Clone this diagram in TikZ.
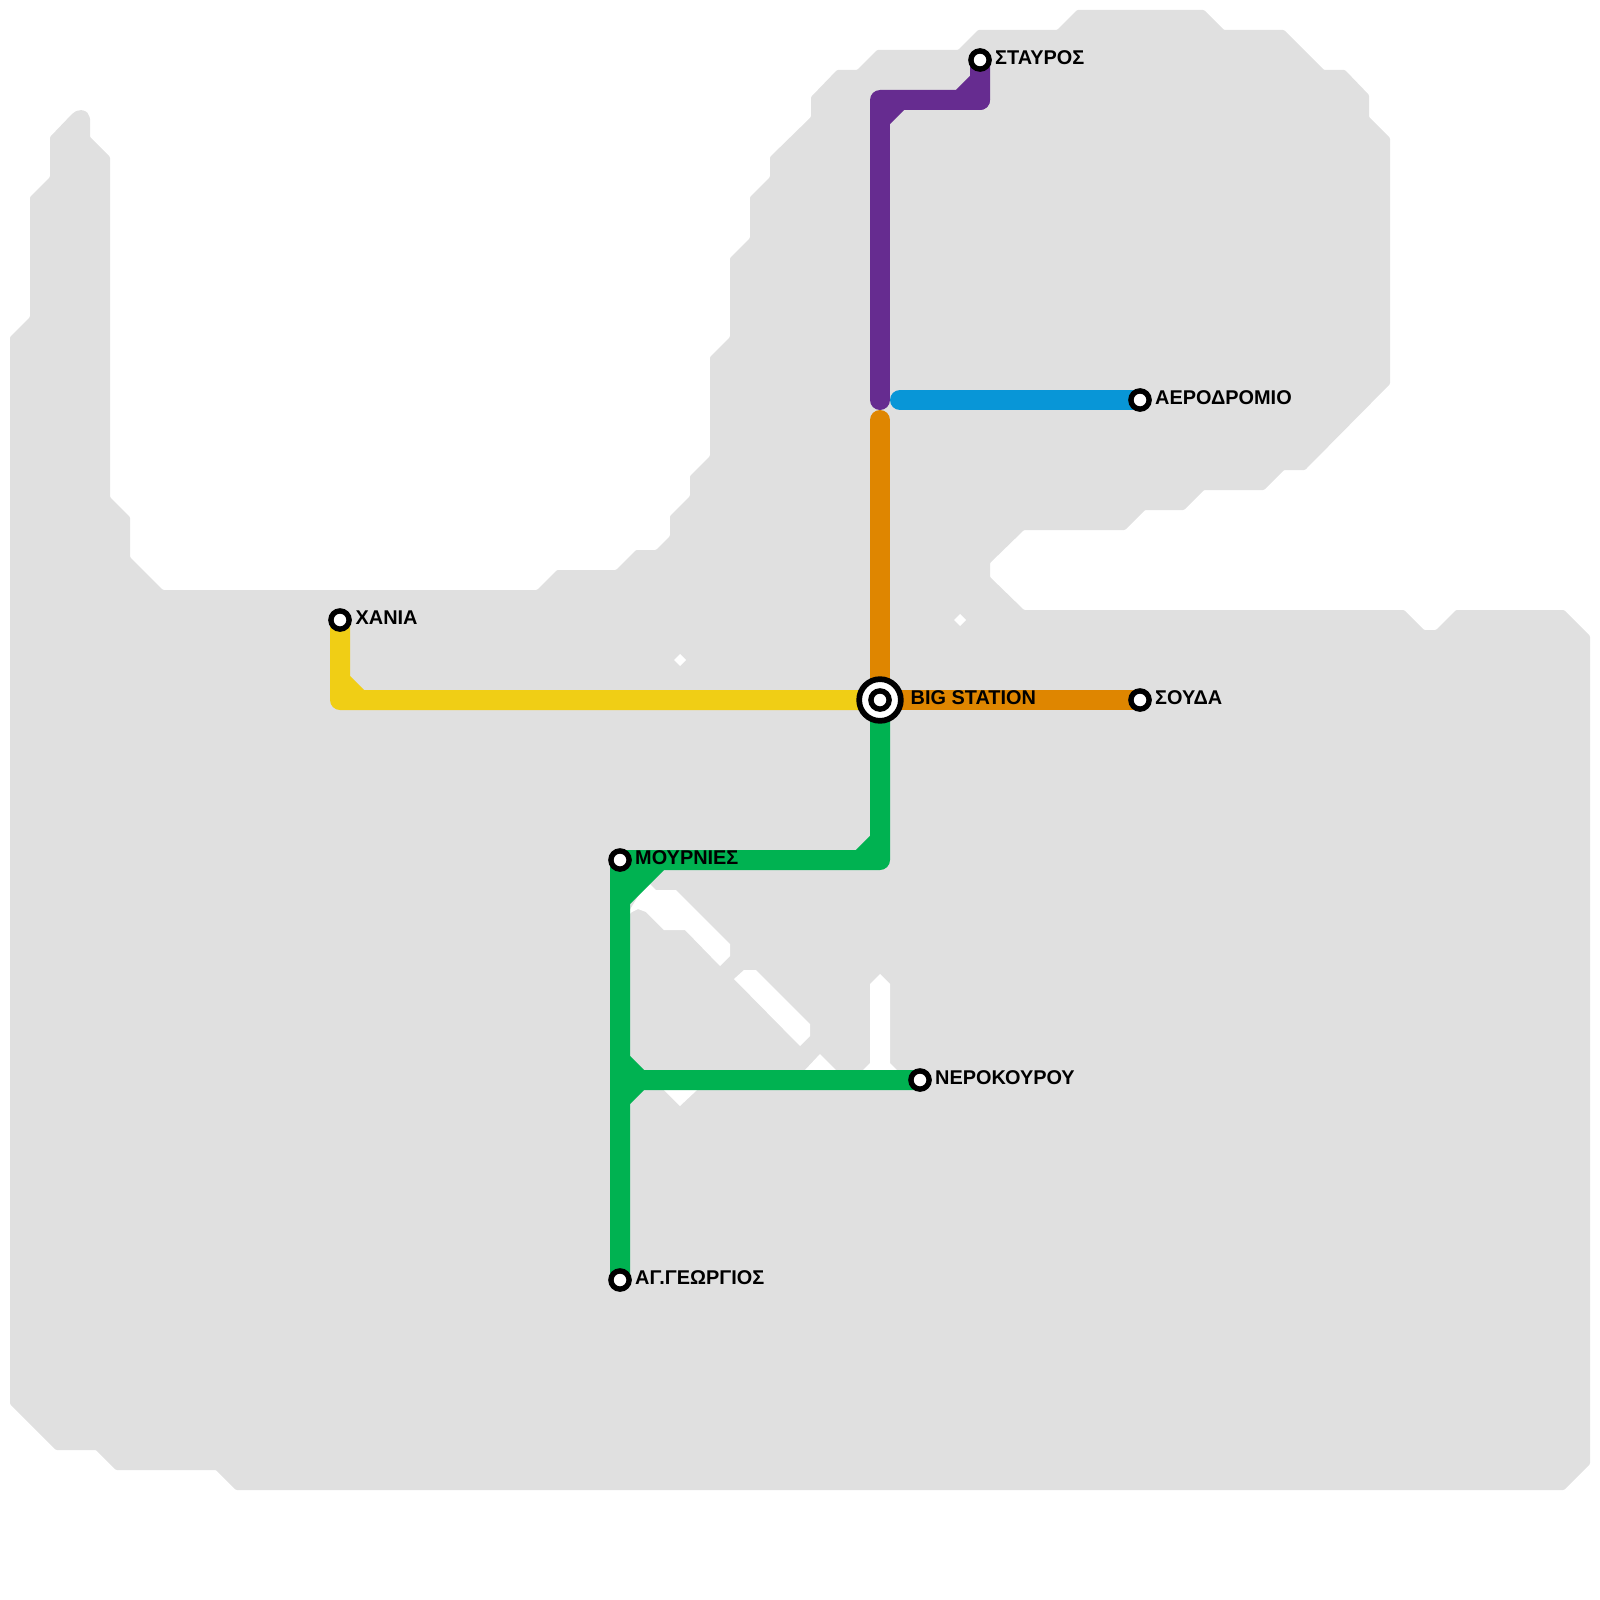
\documentclass[tikz,border=0pt]{standalone}
\usepackage{fontspec}
\setmainfont{Liberation Sans}
\usetikzlibrary{backgrounds}
\definecolor{landgray}{HTML}{E0E0E0}
\definecolor{lineyellow}{HTML}{F0CE15}
\definecolor{linegreen}{HTML}{00B251}
\definecolor{lineorange}{HTML}{DF8600}
\definecolor{linepurple}{HTML}{662C90}
\definecolor{lineblue}{HTML}{0896D7}
\tikzset{
  metroline/.style={line width=20pt, line join=round},
  stn/.style={circle, draw=black, fill=white, line width=5.4pt, minimum size=18.2pt, inner sep=0pt},
  bigring/.style={circle, draw=black, fill=white, line width=5.7pt, minimum size=41.7pt, inner sep=0pt},
  stnlabel/.style={font=\fontsize{19.9}{24}\selectfont\bfseries, text=black, anchor=base west, inner sep=0pt}
}

\begin{document}
\begin{tikzpicture}[x=1pt, y=-1pt]

\useasboundingbox (0,0) rectangle (1600,1600);

% Stations
\node[bigring] (bigouter) at (880,700) {};
\node[stn] (big) at (880,700) {};
\node[stn] (xania) at (340,620) {};
\node[stn] (stavros) at (980,60) {};
\node[stn] (aerodromio) at (1140,400) {};
\node[stn] (souda) at (1140,700) {};
\node[stn] (mournies) at (620,860) {};
\node[stn] (nerokourou) at (920,1080) {};
\node[stn] (georgios) at (620,1280) {};

% Station names
\node[stnlabel] (xanialabel) at (355.5,624.5) {ΧΑΝΙΑ};
\node[stnlabel] (stavroslabel) at (995,64.5) {ΣΤΑΥΡΟΣ};
\node[stnlabel] (aerodromiolabel) at (1155,404.5) {ΑΕΡΟΔΡΟΜΙΟ};
\node[stnlabel] (biglabel) at (910.5,704.5) {BIG STATION};
\node[stnlabel] (soudalabel) at (1155,704.5) {ΣΟΥΔΑ};
\node[stnlabel] (mourlabel) at (635,864.5) {ΜΟΥΡΝΙΕΣ};
\node[stnlabel] (nerolabel) at (935,1084.5) {ΝΕΡΟΚΟΥΡΟΥ};
\node[stnlabel] (georgioslabel) at (635,1284.5) {ΑΓ.ΓΕΩΡΓΙΟΣ};

\begin{scope}[on background layer]

% Land
\fill[landgray, rounded corners=1pt] (10,337) -- (30,317) -- (30,197) -- (50,177) -- (50,137)
  -- (72,114) -- (76,111) -- (82,110) -- (87,112) -- (90,118) -- (90,137) -- (110,157) -- (110,497) -- (130,517)
  -- (130,557) -- (163,590) -- (537,590) -- (557,570) -- (616,570) -- (636,550) -- (656,550)
  -- (670,536) -- (670,516) -- (690,496) -- (690,476) -- (710,456) -- (710,357) -- (730,337)
  -- (730,258) -- (750,238) -- (750,197) -- (770,177) -- (770,157) -- (811,117) -- (811,97)
  -- (837,70) -- (857,70) -- (877,50) -- (958,50) -- (978,30) -- (1057,30) -- (1077,10)
  -- (1204,10) -- (1224,30) -- (1284,30) -- (1324,70) -- (1345,70) -- (1369,95) -- (1369,117)
  -- (1390,138) -- (1390,384) -- (1305,470) -- (1284,470) -- (1264,490) -- (1204,490)
  -- (1184,510) -- (1145,510) -- (1125,530) -- (1024,530) -- (990,563) -- (990,577)
  -- (1024,610) -- (1404,610) -- (1424,630) -- (1436,630) -- (1456,610) -- (1564,610)
  -- (1590,636) -- (1590,1464) -- (1564,1490) -- (236,1490) -- (216,1470) -- (116,1470)
  -- (96,1450) -- (56,1450) -- (10,1404) -- cycle;

% River
\fill[white] (640,893) -- (650,884) -- (656,890) -- (676,890) -- (730,944) -- (730,956)
  -- (720,966) -- (685,930) -- (664,930) -- (646,912) -- (638,909) -- (632,912) -- (625,918) -- cycle;
\fill[white] (734,979) -- (744,970) -- (756,970) -- (810,1024) -- (810,1036) -- (800,1046) -- cycle;
\fill[white] (805,1070) -- (820,1054) -- (836,1070) -- cycle;
\fill[white] (664,1090) -- (680,1106) -- (697,1090) -- cycle;
\fill[white] (863,1070) -- (870,1063) -- (870,984) -- (880,974) -- (890,984) -- (890,1063) -- (897,1070) -- cycle;
\fill[white] (680,654) -- (686,660) -- (680,666) -- (674,660) -- cycle;
\fill[white] (960,614) -- (966,620) -- (960,626) -- (954,620) -- cycle;

% Green line
\draw[linegreen, metroline] (big.center) |- (mournies.center) -- (georgios.center)
  (880,840) -- (860,860) (660,860) -- (620,900);
\fill[linegreen] (mournies.center) -- (660,860) -- (620,900) -- cycle;
\draw[linegreen, metroline] (620,1080) -- (nerokourou.center)
  (620,1060) -- (640,1080) -- (620,1100);

% Yellow line
\draw[lineyellow, metroline] (xania.center) |- (big.center) (340,680) -- (360,700);

% Orange line
\draw[lineorange, metroline, line cap=round] (880,420) -- (big.center);
\draw[lineorange, metroline] (big.center) -- (souda.center);

% Blue line
\draw[lineblue, metroline, line cap=round] (900,400) -- (1130,400);
\draw[lineblue, metroline] (1130,400) -- (aerodromio.center);

% Purple line
\draw[linepurple, metroline] (stavros.center) |- (880,100) (980,80) -- (960,100) (900,100) -- (880,120);
\draw[linepurple, metroline, line cap=round] (980,100) -- (880,100) -- (880,400);

\end{scope}

\end{tikzpicture}
\end{document}
